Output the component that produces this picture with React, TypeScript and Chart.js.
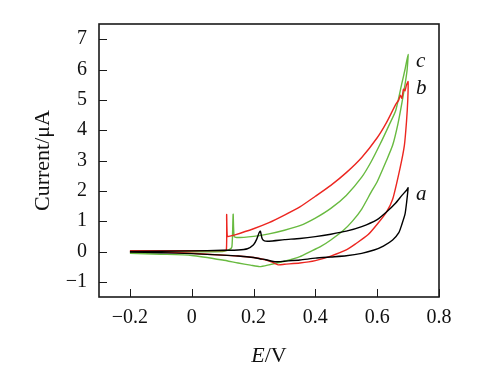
import React, { useEffect, useRef } from 'react';
import { Chart, registerables } from 'chart.js';

Chart.register(...registerables);

// Axis ticks
const xTickValues = [-0.2, 0, 0.2, 0.4, 0.6, 0.8];
const yTickValues = [-1, 0, 1, 2, 3, 4, 5, 6, 7];

// Curve a (black)
const curveA_E = [-0.2, 0.0, 0.1, 0.15, 0.18, 0.2, 0.21, 0.218, 0.222, 0.228, 0.235, 0.25, 0.3, 0.35, 0.4, 0.45, 0.5, 0.55, 0.6, 0.63, 0.66, 0.68, 0.695, 0.7,
  0.695, 0.69, 0.68, 0.67, 0.65, 0.62, 0.59, 0.55, 0.5, 0.45, 0.4, 0.35, 0.3, 0.275, 0.26, 0.24, 0.22, 0.2, 0.15, 0.1, 0.0, -0.1, -0.2];
const curveA_I = [0.0, 0.02, 0.04, 0.05, 0.09, 0.22, 0.4, 0.62, 0.67, 0.42, 0.35, 0.34, 0.39, 0.43, 0.49, 0.57, 0.67, 0.82, 1.05, 1.3, 1.6, 1.85, 2.02, 2.1,
  1.6, 1.23, 0.9, 0.62, 0.38, 0.18, 0.05, -0.06, -0.14, -0.18, -0.22, -0.28, -0.32, -0.34, -0.32, -0.27, -0.24, -0.2, -0.15, -0.12, -0.07, -0.04, -0.02];

// Curve b (red)
const curveB_E = [-0.2, 0.0, 0.1, 0.112, 0.113, 0.115, 0.12, 0.14, 0.2, 0.25, 0.3, 0.35, 0.4, 0.45, 0.5, 0.55, 0.6, 0.63, 0.66, 0.67, 0.675, 0.68, 0.685, 0.69, 0.695, 0.7,
  0.699, 0.695, 0.688, 0.674, 0.65, 0.63, 0.6, 0.57, 0.53, 0.5, 0.45, 0.4, 0.35, 0.3, 0.28, 0.26, 0.24, 0.2, 0.15, 0.1, 0.0, -0.1, -0.2];
const curveB_I = [0.03, 0.03, 0.03, 0.05, 1.22, 0.5, 0.5, 0.55, 0.75, 0.95, 1.2, 1.47, 1.82, 2.18, 2.6, 3.1, 3.75, 4.25, 4.85, 5.0, 5.15, 5.05, 5.35, 5.3, 5.5, 5.6,
  5.0, 4.3, 3.5, 2.75, 1.72, 1.3, 0.9, 0.55, 0.25, 0.05, -0.15, -0.3, -0.38, -0.42, -0.44, -0.35, -0.28, -0.2, -0.15, -0.12, -0.06, -0.02, 0.0];

// Curve c (green)
const curveC_E = [-0.2, 0.0, 0.1, 0.12, 0.13, 0.134, 0.137, 0.145, 0.2, 0.25, 0.3, 0.35, 0.4, 0.45, 0.5, 0.55, 0.58, 0.61, 0.64, 0.66, 0.68, 0.69, 0.7,
  0.697, 0.69, 0.68, 0.667, 0.65, 0.63, 0.6, 0.58, 0.55, 0.52, 0.49, 0.45, 0.415, 0.38, 0.35, 0.3, 0.25, 0.22, 0.19, 0.15, 0.1, 0.0, -0.1, -0.2];
const curveC_I = [-0.04, -0.01, 0.0, 0.05, 0.15, 1.23, 0.5, 0.46, 0.5, 0.58, 0.7, 0.85, 1.1, 1.42, 1.85, 2.45, 2.95, 3.55, 4.2, 4.65, 5.55, 6.0, 6.5,
  6.0, 5.5, 4.9, 4.2, 3.5, 3.0, 2.3, 1.95, 1.4, 1.0, 0.69, 0.38, 0.15, -0.02, -0.17, -0.32, -0.44, -0.5, -0.45, -0.38, -0.28, -0.13, -0.09, -0.06];

const curveNames = ['a', 'b', 'c'];
const curveColors = ['#000000', 'rgb(236,38,32)', 'rgb(104,186,64)'];

const SERIF = '"Liberation Serif", "Times New Roman", serif';

const toPoints = (xs: number[], ys: number[]) => xs.map((x, i) => ({ x, y: ys[i] }));

const fmt = (v: number, digits: number) => {
  if (Math.abs(v) < 1e-9) return '0';
  const s = Math.abs(v).toFixed(digits);
  return (v < 0 ? '\u2212' : '') + s;
};

const framePlugin = {
  id: 'frame',
  afterDraw(chart: any) {
    const { ctx, chartArea } = chart;
    const xs = chart.scales.x;
    const ys = chart.scales.y;
    ctx.save();
    ctx.strokeStyle = '#1a1a1a';
    ctx.lineWidth = 1;
    ctx.beginPath();
    xTickValues.forEach((v) => {
      const px = Math.round(xs.getPixelForValue(v)) + 0.5;
      ctx.moveTo(px, chartArea.bottom);
      ctx.lineTo(px, chartArea.bottom - 8);
    });
    yTickValues.forEach((v) => {
      const py = Math.round(ys.getPixelForValue(v)) + 0.5;
      ctx.moveTo(chartArea.left, py);
      ctx.lineTo(chartArea.left + 8, py);
    });
    ctx.stroke();
    ctx.lineWidth = 1.6;
    ctx.strokeRect(chartArea.left, chartArea.top, chartArea.right - chartArea.left, chartArea.bottom - chartArea.top);

    // curve labels
    ctx.fillStyle = '#111';
    ctx.font = `italic 21px ${SERIF}`;
    ctx.textBaseline = 'middle';
    ctx.textAlign = 'left';
    chart.data.datasets.forEach((ds: any, i: number) => {
      const pts = ds.data;
      let top = pts[0];
      pts.forEach((p: any) => { if (p.y > top.y) top = p; });
      const px = xs.getPixelForValue(top.x);
      const py = ys.getPixelForValue(top.y);
      ctx.fillText(curveNames[i], px + 8, py + 7);
    });

    // x title: E/V with italic E
    const cx = (chartArea.left + chartArea.right) / 2;
    const ty = 356;
    ctx.font = `italic 22px ${SERIF}`;
    const wE = ctx.measureText('E').width;
    ctx.font = `22px ${SERIF}`;
    const wR = ctx.measureText('/V').width;
    const start = cx - (wE + wR) / 2;
    ctx.font = `italic 22px ${SERIF}`;
    ctx.fillText('E', start, ty);
    ctx.font = `22px ${SERIF}`;
    ctx.fillText('/V', start + wE, ty);
    ctx.restore();
  },
};

export default function App() {
  const ref = useRef<HTMLCanvasElement | null>(null);
  useEffect(() => {
    document.body.style.margin = '0';
    const canvas = ref.current;
    if (!canvas) return;
    const series = [
      toPoints(curveA_E, curveA_I),
      toPoints(curveB_E, curveB_I),
      toPoints(curveC_E, curveC_I),
    ];
    const chart = new Chart(canvas, {
      type: 'scatter',
      data: {
        datasets: series.map((pts, i) => ({
          label: curveNames[i],
          data: pts,
          showLine: true,
          borderColor: curveColors[i],
          backgroundColor: curveColors[i],
          borderWidth: 1.4,
          pointRadius: 0,
          tension: 0.2,
          fill: false,
        })),
      },
      options: {
        responsive: false,
        animation: false,
        layout: { padding: { left: 0, top: 20, right: 50, bottom: 0 } },
        plugins: { legend: { display: false }, tooltip: { enabled: false } },
        scales: {
          x: {
            type: 'linear',
            min: -0.3,
            max: 0.8,
            grid: { display: false, drawTicks: false },
            border: { display: false },
            afterBuildTicks: (s: any) => { s.ticks = xTickValues.map((v) => ({ value: v })); },
            afterFit: (s: any) => { s.height = 90; },
            ticks: {
              color: '#111',
              padding: 9,
              font: { family: SERIF, size: 20 },
              maxRotation: 0,
              autoSkip: false,
              callback: (v: any) => fmt(Number(v), 1),
            },
          },
          y: {
            type: 'linear',
            min: -1.5,
            max: 7.5,
            grid: { display: false, drawTicks: false },
            border: { display: false },
            afterBuildTicks: (s: any) => { s.ticks = yTickValues.map((v) => ({ value: v })); },
            afterFit: (s: any) => { s.width = 99; },
            ticks: {
              color: '#111',
              padding: 12,
              font: { family: SERIF, size: 20 },
              autoSkip: false,
              callback: (v: any) => fmt(Number(v), 0),
            },
            title: {
              display: true,
              text: 'Current/\u03BCA',
              color: '#111',
              font: { family: SERIF, size: 22 },
              padding: { top: 30, bottom: 0 },
            },
          },
        },
      },
      plugins: [framePlugin],
    });
    return () => chart.destroy();
  }, []);
  return (
    <div style={{ width: 489, height: 387 }}>
      <canvas ref={ref} width={489} height={387} style={{ display: 'block' }} />
    </div>
  );
}
